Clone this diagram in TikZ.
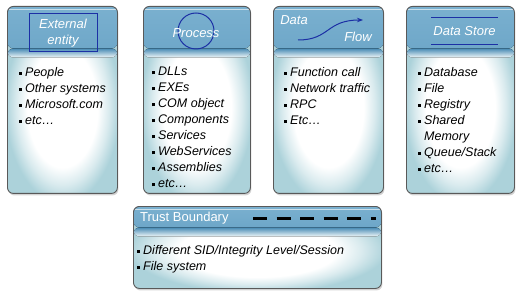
\documentclass[tikz,border=0pt]{standalone}
\usepackage{fontspec}
\setmainfont{Liberation Sans}
\usetikzlibrary{arrows.meta, positioning, shadows}
\definecolor{hdrtop}{RGB}{122,176,207}
\definecolor{hdrbot}{RGB}{72,138,180}
\definecolor{bodyedge}{RGB}{172,210,218}
\definecolor{shapeblue}{RGB}{28,48,165}
\pgfdeclareradialshading{cardbody}{\pgfpoint{0bp}{-3bp}}{color(0bp)=(white); color(16bp)=(white); color(21bp)=(bodyedge!45!white); color(26bp)=(bodyedge); color(50bp)=(bodyedge)}
\newcommand{\sqb}{\rule[0.12em]{0.26em}{0.26em}\hspace{0.22em}}

\begin{document}
\begin{tikzpicture}[
      x=1pt, y=-1pt,
      >=Stealth,
      card/.style={rectangle, rounded corners=6pt, draw=gray!70!black, line width=0.9pt,
        shading=cardbody, anchor=north west,
        drop shadow={opacity=0.35, shadow xshift=1pt, shadow yshift=-2pt},
        path picture={
          \fill[top color=hdrtop, bottom color=hdrbot] (path picture bounding box.north west) rectangle ([yshift=-#1]path picture bounding box.north east);
          \fill[top color=hdrbot, bottom color=white!80!bodyedge] ([yshift=-#1]path picture bounding box.north west) rectangle ([yshift=-#1-9pt]path picture bounding box.north east);
          \draw[white, opacity=0.6, line width=1pt] ([yshift=-3pt]path picture bounding box.north west) -- ([yshift=-3pt]path picture bounding box.north east);}},
      items/.style={anchor=north west, inner sep=0pt, align=left, font=\fontsize{12.5}{16}\selectfont\itshape},
      title/.style={text=white, align=center, inner sep=0pt, font=\fontsize{13}{16}\selectfont\itshape},
      shapeline/.style={draw=shapeblue, line width=1pt}
  ]
      \useasboundingbox (0,0) rectangle (521,296);

      % Cards
      \node[card=42pt, minimum width=110pt, minimum height=187pt] (extcard) at (7,6) {};
      \node[card=42pt, minimum width=107pt, minimum height=187pt] (proccard) at (143,6) {};
      \node[card=42pt, minimum width=110pt, minimum height=187pt] (flowcard) at (273,6) {};
      \node[card=42pt, minimum width=108pt, minimum height=187pt] (storecard) at (406,6) {};
      \node[card=21pt, minimum width=248pt, minimum height=82pt] (trustcard) at (133,206) {};

      % Header symbols
      \node[shapeline, minimum width=68pt, minimum height=38pt] (extbox) at (63,33) {};
      \node[title] (extlbl) at (63,33) {External\\entity};
      \node[shapeline, circle, minimum size=36pt] (proccircle) at (196,31) {};
      \node[title] (proclbl) at (196,33) {Process};
      \node[title] (datalbl) at (294,20) {Data};
      \node[title] (flowlbl) at (358,37) {Flow};
      \coordinate (flowstart) at (298,40);
      \coordinate (flowend) at (363,20);
      \draw[shapeline, -{Stealth[length=6pt]}] (flowstart) .. controls (330,40) and (326,20) .. (flowend);
      \node[title, minimum width=66pt, minimum height=26pt] (storelbl) at (464.5,31) {Data Store};
      \draw[shapeline] (storelbl.north west) -- (storelbl.north east);
      \draw[shapeline] (storelbl.south west) -- (storelbl.south east);
      \node[title, font=\fontsize{13}{16}\selectfont, anchor=west] (trustlbl) at (140,218) {Trust Boundary};
      \coordinate (dashstart) at (253,218);
      \coordinate (dashend) at (376,218);
      \draw[black, line width=3pt, dash pattern=on 14pt off 9.5pt] (dashstart) -- (dashend);

      % Item lists
      \node[items] (extitems) at (19,67) {\sqb People\\ \sqb Other systems\\ \sqb Microsoft.com\\ \sqb etc…};
      \node[items] (procitems) at (152,67) {\sqb DLLs\\ \sqb EXEs\\ \sqb COM object\\ \sqb Components\\ \sqb Services\\ \sqb WebServices\\ \sqb Assemblies\\ \sqb etc…};
      \node[items] (flowitems) at (284,67) {\sqb Function call\\ \sqb Network traffic\\ \sqb RPC\\ \sqb Etc…};
      \node[items] (storeitems) at (418,67) {\sqb Database\\ \sqb File\\ \sqb Registry\\ \sqb Shared\\ \phantom{\sqb}Memory\\ \sqb Queue/Stack\\ \sqb etc…};
      \node[items] (trustitems) at (137,245) {\sqb Different SID/Integrity Level/Session\\ \sqb File system};

  \end{tikzpicture}
\end{document}
